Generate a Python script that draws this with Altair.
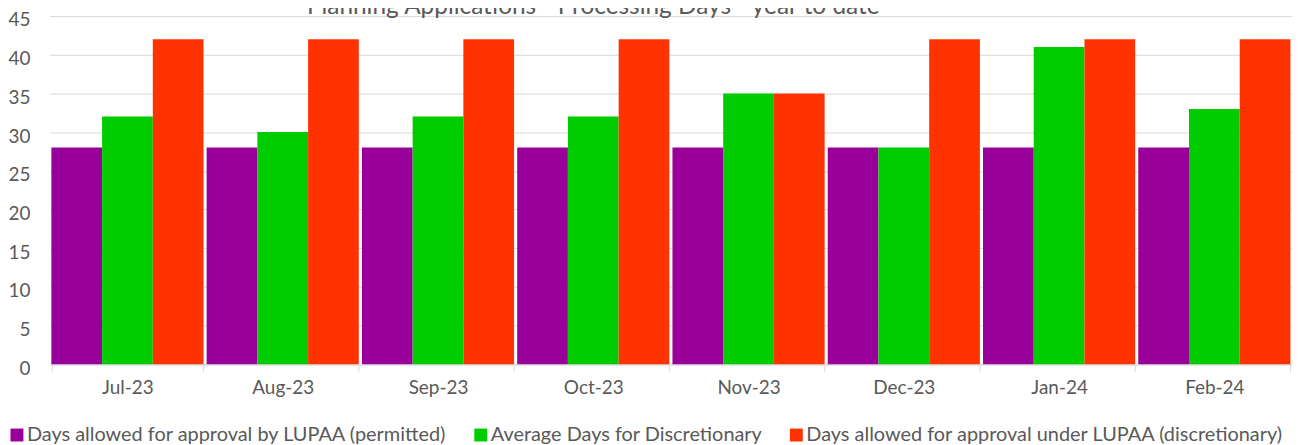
import altair as alt
import pandas as pd

months = ["Jul-23", "Aug-23", "Sep-23", "Oct-23", "Nov-23", "Dec-23", "Jan-24", "Feb-24"]
series = [
    "Days allowed for approval by LUPAA (permitted)",
    "Average Days for Discretionary",
    "Days allowed for approval under LUPAA (discretionary)",
]
permitted = [28, 28, 28, 28, 28, 28, 28, 28]
avg_discretionary = [32, 30, 32, 32, 35, 28, 41, 33]
allowed_discretionary = [42, 42, 42, 42, 35, 42, 42, 42]
colors = ["#990099", "#00CC00", "#FF3300"]
y_ticks = [0, 5, 10, 15, 20, 25, 30, 35, 40, 45]
title_text = ["Planning Applications - Processing Days - year to date"]

rows = []
for name, vals in zip(series, [permitted, avg_discretionary, allowed_discretionary]):
    for m, v in zip(months, vals):
        rows.append({"month": m, "series": name, "value": v})
df = pd.DataFrame(rows)
title_df = pd.DataFrame({"title": title_text})

FONT = "Lato"
GREY = "#595959"

bars = (
    alt.Chart(df)
    .mark_bar()
    .encode(
        x=alt.X(
            "month:N",
            sort=months,
            scale=alt.Scale(paddingInner=0.02, paddingOuter=0.01),
            axis=alt.Axis(
                title=None,
                labelAngle=0,
                tickBand="extent",
                domainColor="#D9D9D9",
                tickColor="#D9D9D9",
                tickSize=7,
                labelPadding=7,
                labelFontSize=19,
                labelFont=FONT,
                labelColor=GREY,
                grid=False,
            ),
        ),
        xOffset=alt.XOffset("series:N", sort=series, scale=alt.Scale(paddingInner=0, paddingOuter=0)),
        y=alt.Y(
            "value:Q",
            scale=alt.Scale(domain=[0, 45], nice=False),
            axis=alt.Axis(
                title=None,
                values=y_ticks,
                domain=False,
                ticks=False,
                grid=True,
                gridColor="#D9D9D9",
                labelPadding=20,
                labelFontSize=19,
                labelFont=FONT,
                labelColor=GREY,
                labelOffset=4,
            ),
        ),
        color=alt.Color(
            "series:N",
            sort=series,
            scale=alt.Scale(domain=series, range=colors),
            legend=alt.Legend(
                title=None,
                orient="none",
                direction="horizontal",
                legendX=-43,
                legendY=411,
                symbolType="square",
                symbolSize=169,
                symbolStrokeWidth=0,
                labelFontSize=20,
                labelFont=FONT,
                labelColor=GREY,
                labelOffset=0,
                labelLimit=0,
                columnPadding=23,
                padding=0,
            ),
        ),
    )
)

title = (
    alt.Chart(title_df)
    .mark_text(font=FONT, fontSize=24.5, color=GREY, align="center", baseline="alphabetic")
    .encode(text="title:N", x=alt.value(546), y=alt.value(-2))
)

chart = (
    alt.layer(bars, title)
    .properties(
        width=1248,
        height=350,
        autosize=alt.AutoSizeParams(type="none"),
        padding={"left": 42, "top": 7, "right": 0, "bottom": 80},
    )
    .configure_view(stroke=None)
)

chart.save("out.html", embed_options={"renderer": "svg", "actions": False})
